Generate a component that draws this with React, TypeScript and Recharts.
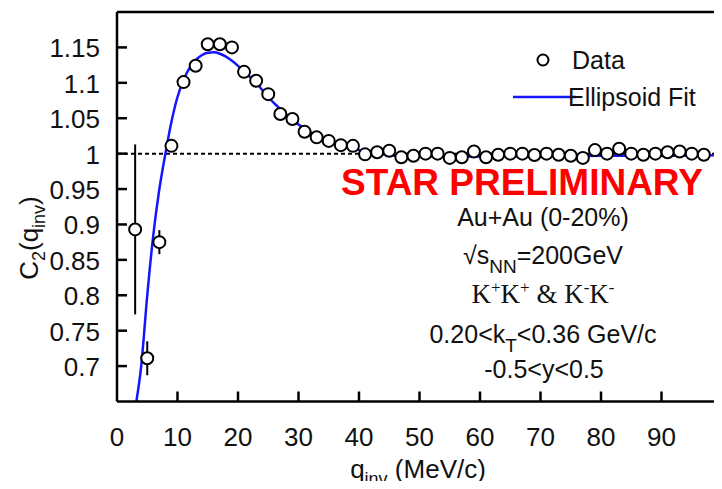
import { ComposedChart, Scatter, Line, XAxis, YAxis, ReferenceLine, ErrorBar } from 'recharts';

// measured correlation points (bin centres, MeV/c)
const dataQ = [3, 5, 7, 9, 11, 13, 15, 17, 19, 21, 23, 25, 27, 29, 31, 33, 35, 37, 39, 41, 43, 45, 47, 49, 51, 53, 55, 57, 59, 61, 63, 65, 67, 69, 71, 73, 75, 77, 79, 81, 83, 85, 87, 89, 91, 93, 95, 97];
const dataC = [0.893, 0.711, 0.875, 1.011, 1.101, 1.124, 1.1545, 1.1545, 1.15, 1.1155, 1.103, 1.084, 1.056, 1.049, 1.031, 1.023, 1.018, 1.012, 1.011, 0.999, 1.002, 1.004, 0.995, 0.997, 1.0, 1.0, 0.994, 0.995, 1.003, 0.995, 0.9985, 1.0, 1.0, 0.998, 1.0, 0.9985, 0.997, 0.994, 1.005, 1.0, 1.007, 1.0, 0.9985, 1.0, 1.002, 1.003, 1.0, 0.9985];
const dataErr = [0.12, 0.024, 0.017, 0.006, 0.005, 0.005, 0.004, 0.004, 0.004, 0.004, 0.004, 0.004, 0.003, 0.003, 0.003, 0.003, 0.003, 0.003, 0.003, 0.003, 0.003, 0.003, 0.003, 0.003, 0.003, 0.003, 0.003, 0.003, 0.003, 0.003, 0.003, 0.003, 0.003, 0.003, 0.003, 0.003, 0.003, 0.003, 0.003, 0.003, 0.003, 0.003, 0.003, 0.003, 0.003, 0.003, 0.003, 0.003];

// ellipsoid fit
const fitQ = [3.2, 4, 5, 6, 7, 8, 9, 10, 11, 12, 13, 14, 15, 16, 17, 18, 19, 20, 21, 22, 23, 24, 25, 26, 27, 28, 29, 30, 32, 34, 36, 38, 40, 42, 44, 46, 50, 60, 70, 80, 90, 100];
const fitC = [0.65, 0.7, 0.8, 0.885, 0.95, 1.0, 1.045, 1.08, 1.104, 1.121, 1.132, 1.139, 1.1425, 1.143, 1.141, 1.137, 1.131, 1.124, 1.116, 1.108, 1.1, 1.09, 1.08, 1.071, 1.063, 1.055, 1.048, 1.041, 1.03, 1.021, 1.014, 1.009, 1.005, 1.002, 0.999, 0.997, 0.996, 0.996, 0.996, 0.997, 0.997, 0.998];

const xTicks = [0, 10, 20, 30, 40, 50, 60, 70, 80, 90];
const yTicks = [0.7, 0.75, 0.8, 0.85, 0.9, 0.95, 1, 1.05, 1.1, 1.15];

const points = dataQ.map((q, i) => ({ q, c: dataC[i], err: dataErr[i] }));
const fit = fitQ.map((q, i) => ({ q, c: fitC[i] }));

const FONT = '"Liberation Sans", Arial, Helvetica, sans-serif';
const SERIF = '"Liberation Serif", "Times New Roman", serif';
const BLUE = '#1515ff';

function YTick({ x, y, payload }: any) {
    return (
        <g>
            <line x1={x} x2={x + 10} y1={y} y2={y} stroke="#000" strokeWidth={2.5} />
            <text x={x - 17} y={y + 10} textAnchor="end" fontSize={26} fontFamily={FONT} fill="#111">
                {String(payload.value)}
            </text>
        </g>
    );
}

function XTick({ x, y, payload }: any) {
    return (
        <g>
            {payload.value !== 0 && <line x1={x} x2={x} y1={y} y2={y - 10} stroke="#000" strokeWidth={2.5} />}
            <text x={x} y={y + 44} textAnchor="middle" fontSize={26} fontFamily={FONT} fill="#111">
                {String(payload.value)}
            </text>
        </g>
    );
}

function DataPoint({ cx, cy }: any) {
    return <circle cx={cx} cy={cy} r={6} fill="#fff" stroke="#000" strokeWidth={2} />;
}

export default function App() {
    return (
        <div style={{ position: 'relative', width: 722, height: 489, margin: -8, background: '#fff' }}>
            <ComposedChart width={722} height={489} margin={{ top: 12, right: 0, bottom: 0, left: 0 }}>
                <XAxis
                    dataKey="q"
                    type="number"
                    domain={[0, 100]}
                    ticks={xTicks}
                    height={87.5}
                    tickSize={0}
                    tickMargin={0}
                    tickLine={false}
                    axisLine={{ stroke: '#000', strokeWidth: 2.5 }}
                    tick={<XTick />}
                    allowDataOverflow
                />
                <YAxis
                    dataKey="c"
                    type="number"
                    domain={[0.65, 1.2]}
                    ticks={yTicks}
                    width={117}
                    tickSize={0}
                    tickMargin={0}
                    tickLine={false}
                    axisLine={{ stroke: '#000', strokeWidth: 2.5 }}
                    tick={<YTick />}
                    allowDataOverflow
                />
                <ReferenceLine y={1.2} stroke="#000" strokeWidth={2.5} />
                <ReferenceLine y={1} stroke="#000" strokeWidth={2} strokeDasharray="4 3" />
                <Scatter data={points} dataKey="c" shape={<DataPoint />} isAnimationActive={false}>
                    <ErrorBar dataKey="err" direction="y" width={0} stroke="#000" strokeWidth={2} />
                </Scatter>
                <Line data={fit} dataKey="c" type="monotone" stroke={BLUE} strokeWidth={2.5} dot={false} isAnimationActive={false} />
            </ComposedChart>

            <svg width={722} height={489} style={{ position: 'absolute', left: 0, top: 0, pointerEvents: 'none' }}>
                {/* legend */}
                <circle cx={543} cy={60} r={5.5} fill="#fff" stroke="#000" strokeWidth={2} />
                <text x={572} y={69} fontSize={25} fontFamily={FONT} fill="#111">Data</text>
                <line x1={513} x2={576} y1={97} y2={97} stroke={BLUE} strokeWidth={2.5} />
                <text x={568} y={106} fontSize={25} fontFamily={FONT} fill="#111">Ellipsoid Fit</text>

                <text x={522} y={195} textAnchor="middle" fontSize={37} fontWeight="bold" fontFamily={FONT} fill="#ff0000">
                    STAR PRELIMINARY
                </text>

                <g fontFamily={FONT} fontSize={25} fill="#111" textAnchor="middle">
                    <text x={543} y={226}>Au+Au (0-20%)</text>
                    <text x={543} y={264}>
                        √s<tspan fontSize={19} dy={9}>NN</tspan><tspan dy={-9}>=200GeV</tspan>
                    </text>
                    <text x={543} y={303} fontFamily={SERIF} fontSize={27}>
                        K<tspan fontSize={17} dy={-10}>+</tspan><tspan dy={10}>K</tspan><tspan fontSize={17} dy={-10}>+</tspan>
                        <tspan dy={10}> &amp; K</tspan><tspan fontSize={17} dy={-10}>-</tspan><tspan dy={10}>K</tspan>
                        <tspan fontSize={17} dy={-10}>-</tspan>
                    </text>
                    <text x={543} y={343}>
                        0.20&lt;k<tspan fontSize={19} dy={9}>T</tspan><tspan dy={-9}>&lt;0.36 GeV/c</tspan>
                    </text>
                    <text x={544} y={378}>-0.5&lt;y&lt;0.5</text>
                </g>

                {/* axis titles */}
                <text x={418} y={478} textAnchor="middle" fontSize={26} fontFamily={FONT} fill="#111">
                    q<tspan fontSize={18} dy={7}>inv</tspan><tspan dy={-7}> (MeV/c)</tspan>
                </text>
                <text transform="translate(38, 238) rotate(-90)" textAnchor="middle" fontSize={26} fontFamily={FONT} fill="#111">
                    C<tspan fontSize={18} dy={7}>2</tspan><tspan dy={-7}>(q</tspan><tspan fontSize={18} dy={7}>inv</tspan>
                    <tspan dy={-7}>)</tspan>
                </text>
            </svg>
        </div>
    );
}
